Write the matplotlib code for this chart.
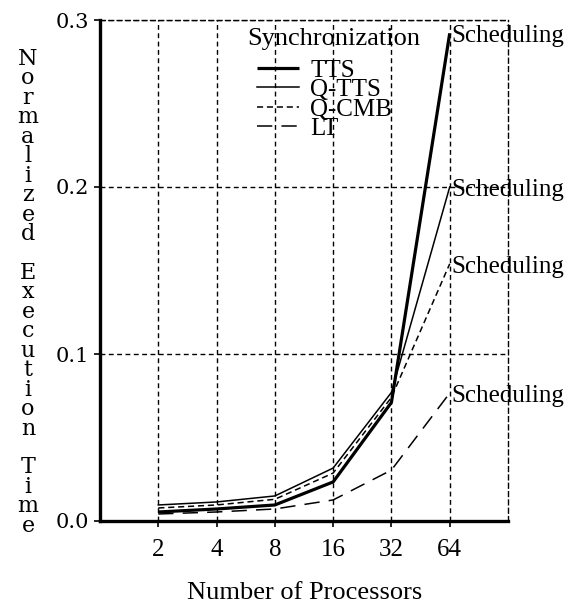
import numpy as np
import matplotlib
matplotlib.use("Agg")
import matplotlib.pyplot as plt

# DATA
procs = ['2', '4', '8', '16', '32', '64']
tts = [0.0054, 0.0072, 0.0096, 0.0234, 0.071, 0.292]
qtts = [0.0096, 0.0114, 0.015, 0.0317, 0.077, 0.200]
qcmb = [0.0078, 0.0096, 0.013, 0.0287, 0.074, 0.154]
lt = [0.0042, 0.0054, 0.0072, 0.0126, 0.0305, 0.0766]
series_names = ['TTS', 'Q-TTS', 'Q-CMB', 'LT']
end_label = 'Scheduling'
y_ticks = [0.0, 0.1, 0.2, 0.3]
ylabel_words = ['Normalized', 'Execution', 'Time']
xlabel = 'Number of Processors'

serif = 'Liberation Serif'
W, H = 571, 606
fig = plt.figure(figsize=(W / 100, H / 100), dpi=100)
ax = fig.add_axes([100 / W, 1 - 521 / H, 408 / W, 501 / H])

x = np.arange(1, len(procs) + 1)
grid_ls = (0, (3.5, 2.5))

l1, = ax.plot(x, tts, color='black', lw=2.3, solid_capstyle='butt')
l2, = ax.plot(x, qtts, color='black', lw=1.1)
l3, = ax.plot(x, qcmb, color='black', lw=1.1, dashes=(4, 2.5))
l4, = ax.plot(x, lt, color='black', lw=1.1, dashes=(10, 6))

for vals in (tts, qtts, qcmb, lt):
    ax.annotate(end_label, (x[-1], vals[-1]), xytext=(1, -2),
                textcoords='offset points', ha='left', va='center',
                family=serif, fontsize=18, annotation_clip=False)

ax.set_xlim(0, 7)
ax.set_ylim(0, 0.3)
ax.set_xticks(x)
ax.set_xticklabels(procs, family=serif, fontsize=18)
ax.set_yticks(y_ticks)
ax.set_yticklabels(['%.1f' % v for v in y_ticks], family='DejaVu Serif', fontsize=15)
ax.tick_params(direction='out', length=4, width=1.2, pad=4)
ax.tick_params(axis='x', pad=9)

ax.grid(True, color='black', ls=grid_ls, lw=1.0)
for s in ('left', 'bottom'):
    ax.spines[s].set_linewidth(2.4)
for s in ('top', 'right'):
    ax.spines[s].set_linestyle(grid_ls)
    ax.spines[s].set_linewidth(1.0)

leg = ax.legend([l1, l2, l3, l4], series_names, title='Synchronization',
                frameon=False, loc='upper left', bbox_to_anchor=(0.36, 0.985),
                prop={'family': serif, 'size': 18}, labelspacing=-0.12,
                handlelength=1.7, handletextpad=0.45, borderpad=0,
                borderaxespad=0)
leg.get_title().set_fontfamily(serif)
leg.get_title().set_fontsize(19)
leg._legend_box.align = 'left'
leg._legend_box.sep = 0
leg._legend_handle_box.pad = 7

fig.text(305 / W, 1 - 593 / H, xlabel, ha='center', va='center',
         family=serif, fontsize=19)

# stacked vertical y label, one letter per line
stacked = '\n\n'.join('\n'.join(w) for w in ylabel_words)
fig.text(28 / W, 1 - 48 / H, stacked, ha='center', va='top',
         multialignment='center', family='DejaVu Serif', fontsize=16,
         linespacing=0.85)

fig.savefig('out.png', dpi=100)
